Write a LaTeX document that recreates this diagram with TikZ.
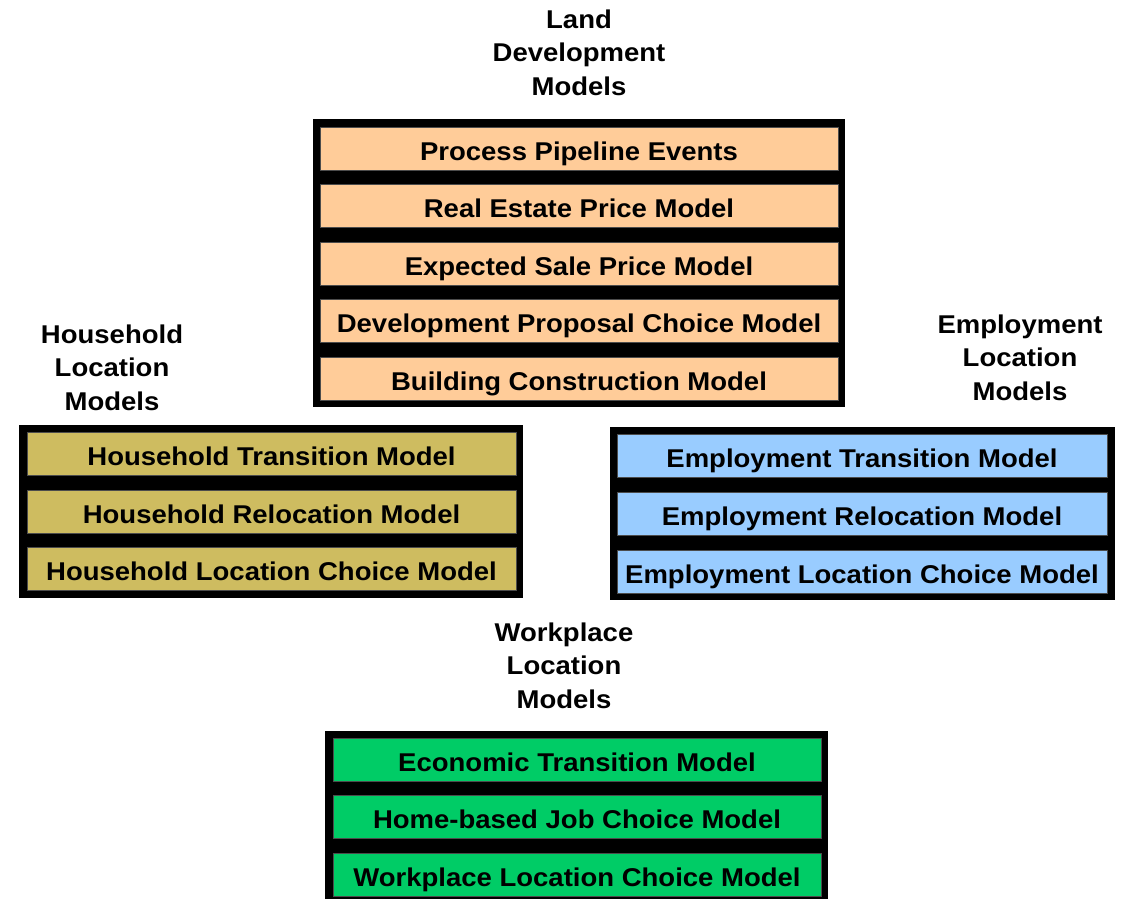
\documentclass[tikz,border=0pt]{standalone}
\usepackage{fontspec}
\setmainfont{Liberation Sans}[FakeStretch=1.07]
\usepackage{tikz}

\definecolor{landcol}{RGB}{255,204,153}
\definecolor{hhcol}{RGB}{206,188,96}
\definecolor{empcol}{RGB}{153,204,255}
\definecolor{workcol}{RGB}{0,204,102}

\tikzset{
  modelbox/.style={fill=#1, draw=black!70, line width=0.6pt, inner sep=0pt,
    minimum height=43pt, text height=23.5pt, text depth=0pt,
    font=\fontsize{25.7}{33.5}\selectfont\bfseries},
  grouptitle/.style={align=center, inner sep=0pt, anchor=base,
    font=\fontsize{25.7}{33.5}\selectfont\bfseries}
}

\begin{document}
\begin{tikzpicture}[x=1pt,y=-1pt]
\clip (0,0) rectangle (1132,898);
\fill[white] (0,0) rectangle (1132,898);
% group titles (anchored at the last baseline)
\node[grouptitle] (landtitle) at (579,95) {Land\\Development\\Models};
\node[grouptitle] (hhtitle) at (112,410) {Household\\Location\\Models};
\node[grouptitle] (emptitle) at (1020,400) {Employment\\Location\\Models};
\node[grouptitle] (worktitle) at (564,708) {Workplace\\Location\\Models};
% black frames
\fill[black] (313,119) rectangle (845,407);
\fill[black] (19,425) rectangle (523,598);
\fill[black] (610,427) rectangle (1115,600);
\fill[black] (325,731) rectangle (828,905);
% land development models
\node[modelbox=landcol,minimum width=518pt] (pipeline) at (579,148.5) {Process Pipeline Events};
\node[modelbox=landcol,minimum width=518pt] (realestate) at (579,206) {Real Estate Price Model};
\node[modelbox=landcol,minimum width=518pt] (saleprice) at (579,263.5) {Expected Sale Price Model};
\node[modelbox=landcol,minimum width=518pt] (proposal) at (579,321) {Development Proposal Choice Model};
\node[modelbox=landcol,minimum width=518pt] (construction) at (579,378.5) {Building Construction Model};
% household location models
\node[modelbox=hhcol,minimum width=489pt] (hhtrans) at (271.5,454) {Household Transition Model};
\node[modelbox=hhcol,minimum width=489pt] (hhreloc) at (271.5,511.5) {Household Relocation Model};
\node[modelbox=hhcol,minimum width=489pt] (hhchoice) at (271.5,569) {Household Location Choice Model};
% employment location models
\node[modelbox=empcol,minimum width=490pt] (emptrans) at (862,456) {Employment Transition Model};
\node[modelbox=empcol,minimum width=490pt] (empreloc) at (862,514) {Employment Relocation Model};
\node[modelbox=empcol,minimum width=490pt] (empchoice) at (862,571.5) {Employment Location Choice Model};
% workplace location models
\node[modelbox=workcol,minimum width=488pt] (econtrans) at (577,759.5) {Economic Transition Model};
\node[modelbox=workcol,minimum width=488pt] (homejob) at (577,817) {Home-based Job Choice Model};
\node[modelbox=workcol,minimum width=488pt] (workchoice) at (577,875) {Workplace Location Choice Model};
\end{tikzpicture}
\end{document}
